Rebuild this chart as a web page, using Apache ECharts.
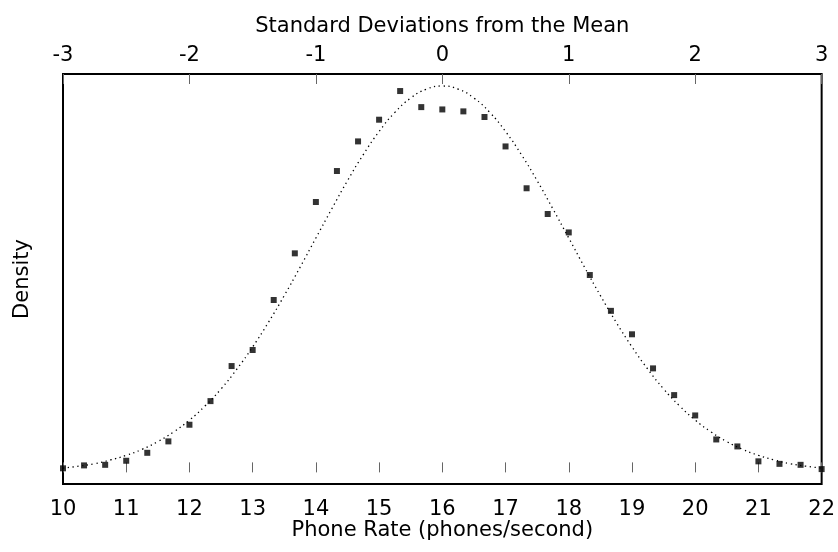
<!DOCTYPE html>
<html>
<head>
<meta charset="utf-8">
<script src="https://cdn.jsdelivr.net/npm/echarts@6/dist/echarts.min.js"></script>
<style>html,body{margin:0;padding:0;background:#fff}#c{width:838px;height:552px}</style>
</head>
<body>
<div id="c"></div>
<script>
// Observed phone rates (x) and densities (y)
var rateX = [10, 10.333, 10.667, 11, 11.333, 11.667, 12, 12.333, 12.667, 13, 13.333, 13.667, 14, 14.333, 14.667, 15, 15.333, 15.667, 16, 16.333, 16.667, 17, 17.333, 17.667, 18, 18.333, 18.667, 19, 19.333, 19.667, 20, 20.333, 20.667, 21, 21.333, 21.667, 22];
var densityY = [0.0021, 0.0036, 0.0039, 0.0060, 0.0101, 0.0160, 0.0246, 0.0368, 0.0549, 0.0632, 0.0890, 0.1131, 0.1396, 0.1556, 0.1709, 0.1821, 0.1969, 0.1886, 0.1874, 0.1864, 0.1835, 0.1683, 0.1467, 0.1334, 0.1239, 0.1019, 0.0834, 0.0713, 0.0537, 0.0399, 0.0294, 0.0170, 0.0134, 0.0057, 0.0044, 0.0039, 0.0017];
// Dotted reference curve, read at 0.25 steps
var curveX = [10, 10.25, 10.5, 10.75, 11, 11.25, 11.5, 11.75, 12, 12.25, 12.5, 12.75, 13, 13.25, 13.5, 13.75, 14, 14.25, 14.5, 14.75, 15, 15.25, 15.5, 15.75, 16, 16.25, 16.5, 16.75, 17, 17.25, 17.5, 17.75, 18, 18.25, 18.5, 18.75, 19, 19.25, 19.5, 19.75, 20, 20.25, 20.5, 20.75, 21, 21.25, 21.5, 21.75, 22];
var curveY = [0.0022, 0.0032, 0.0045, 0.0064, 0.0088, 0.0119, 0.0159, 0.0209, 0.0270, 0.0344, 0.0431, 0.0533, 0.0648, 0.0775, 0.0913, 0.1059, 0.1210, 0.1360, 0.1506, 0.1641, 0.1760, 0.1859, 0.1933, 0.1979, 0.1995, 0.1979, 0.1933, 0.1859, 0.1760, 0.1641, 0.1506, 0.1360, 0.1210, 0.1059, 0.0913, 0.0775, 0.0648, 0.0533, 0.0431, 0.0344, 0.0270, 0.0209, 0.0159, 0.0119, 0.0088, 0.0064, 0.0045, 0.0032, 0.0022];
// Axis ranges
var bottomRange = [10, 22];
var topRange = [-3, 3];
var yRange = [-0.006, 0.2057];

var FONT = 'DejaVu Sans, sans-serif';
var FS = 21;

var scatterData = rateX.map(function (x, i) { return [x, densityY[i]]; });
var curveData = curveX.map(function (x, i) { return [x, curveY[i]]; });

var chart = echarts.init(document.getElementById('c'), null, { renderer: 'canvas' });
chart.setOption({
  animation: false,
  backgroundColor: '#fff',
  textStyle: { fontFamily: FONT },
  grid: { left: 63, right: 15, top: 74, bottom: 68, show: true, borderColor: '#000', borderWidth: 2, backgroundColor: 'transparent' },
  xAxis: [{
    type: 'value', position: 'bottom', min: bottomRange[0], max: bottomRange[1], interval: 1,
    name: 'Phone Rate (phones/second)', nameLocation: 'middle', nameGap: 36, nameMoveOverlap: false,
    nameTextStyle: { fontFamily: FONT, fontSize: FS, color: '#000' },
    axisLine: { show: false },
    axisTick: { show: true, inside: true, length: 10, lineStyle: { color: '#666', width: 1 } },
    axisLabel: { fontFamily: FONT, fontSize: FS, color: '#000', margin: 15 },
    splitLine: { show: false }
  }, {
    type: 'value', position: 'top', min: topRange[0], max: topRange[1], interval: 1,
    name: 'Standard Deviations from the Mean', nameLocation: 'middle', nameGap: 37, nameMoveOverlap: false,
    nameTextStyle: { fontFamily: FONT, fontSize: FS, color: '#000' },
    axisLine: { show: false },
    axisTick: { show: true, inside: true, length: 10, lineStyle: { color: '#666', width: 1 } },
    axisLabel: { fontFamily: FONT, fontSize: FS, color: '#000', margin: 8 },
    splitLine: { show: false }
  }],
  yAxis: [{
    type: 'value', min: yRange[0], max: yRange[1],
    name: 'Density', nameLocation: 'middle', nameGap: 30, nameRotate: 90,
    nameTextStyle: { fontFamily: FONT, fontSize: FS, color: '#000' },
    axisLine: { show: false }, axisTick: { show: false }, axisLabel: { show: false }, splitLine: { show: false }
  }],
  series: [{
    type: 'line', xAxisIndex: 0, yAxisIndex: 0, data: curveData, smooth: true, showSymbol: false,
    lineStyle: { color: '#000', width: 1.3, type: [1.3, 3.5] }, z: 2, silent: true
  }, {
    type: 'scatter', xAxisIndex: 0, yAxisIndex: 0, data: scatterData, symbol: 'rect', symbolSize: 6,
    itemStyle: { color: '#000' }, z: 3, silent: true
  }]
});
</script>
</body>
</html>
